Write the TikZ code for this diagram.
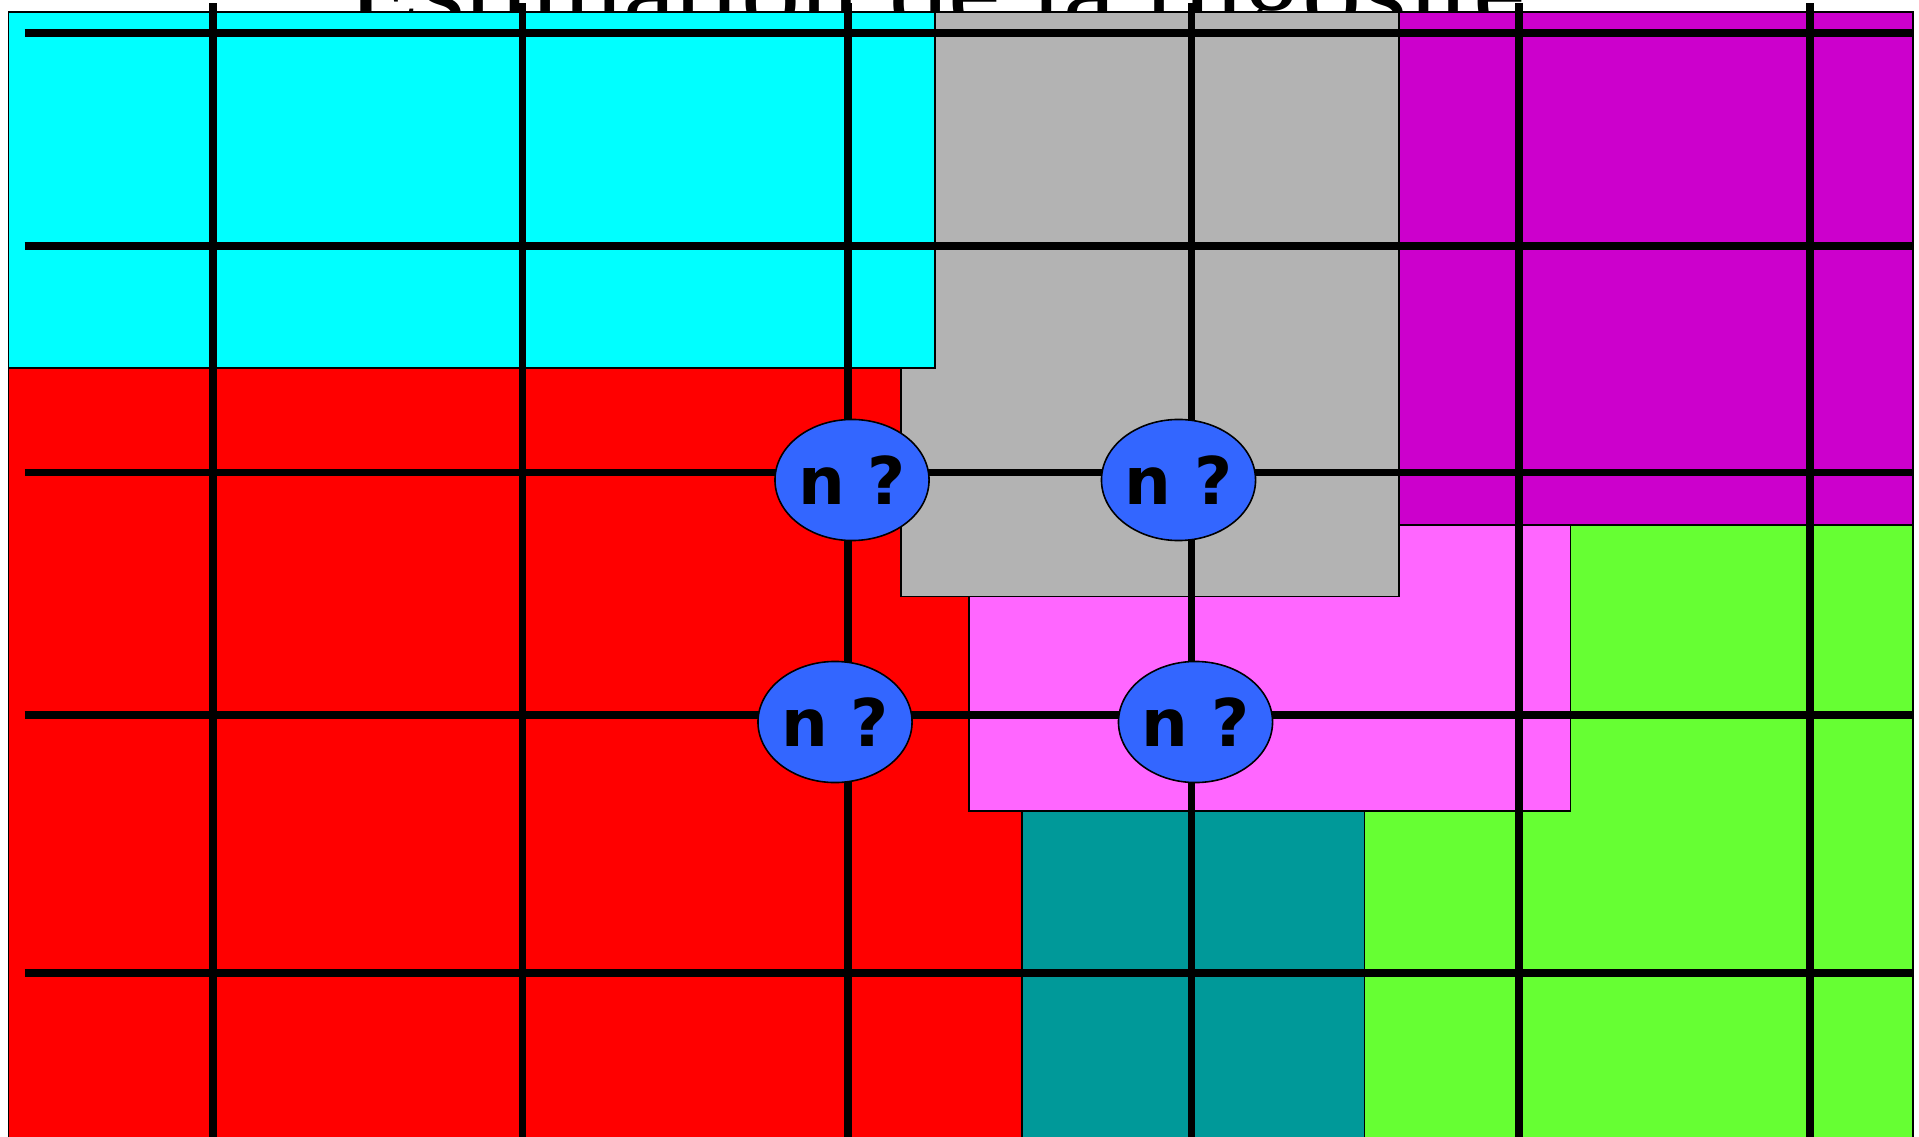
\documentclass[tikz,border=0pt]{standalone}
\usepackage{fontspec}
\newfontfamily\titlefont{Liberation Serif}
\newfontfamily\nfont{DejaVu Sans}
\usetikzlibrary{shapes.geometric}
\definecolor{regcyan}{HTML}{00FFFF}
\definecolor{regred}{HTML}{FF0000}
\definecolor{reggray}{HTML}{B3B3B3}
\definecolor{regmag}{HTML}{CC00CC}
\definecolor{regpink}{HTML}{FF66FF}
\definecolor{reggreen}{HTML}{66FF33}
\definecolor{regteal}{HTML}{009999}
\definecolor{nblue}{HTML}{3366FF}
\begin{document}
\begin{tikzpicture}[x=0.01cm,y=-0.01cm,
  region/.style={draw=black,line width=0.4pt},
  gridline/.style={line width=2.2pt,black},
  guess/.style={ellipse,draw=black,line width=0.45pt,fill=nblue,
    minimum width=1.54cm,minimum height=1.21cm,inner sep=0pt,
    font=\nfont\bfseries\fontsize{18.7}{20}\selectfont}]
\useasboundingbox (0,0) rectangle (1919,1137);
\fill[white] (0,0) rectangle (1919,1137);
\node[anchor=base,inner sep=0pt,font=\titlefont\fontsize{33.6}{36}\selectfont] (title) at (936.5,30) {Estimation de la rugosité};
\begin{scope}
\clip (0,0) rectangle (1919,1137);
% regions
\draw[region,fill=regred] (8.5,368) rectangle (1022,1140);
\draw[region,fill=reggreen] (1364.5,525) rectangle (1913,1140);
\draw[region,fill=regpink] (969,525) rectangle (1570.5,811);
\draw[region,fill=reggray] (901,12) rectangle (1399,596.5);
\draw[region,fill=regcyan] (8.5,12) rectangle (935,368);
\draw[region,fill=regmag] (1399,12) rectangle (1913,525);
\draw[region,fill=regteal] (1022,811) rectangle (1364.5,1140);
% grid
\foreach \yy in {33,246,472.5,715,973} \draw[gridline] (24.5,\yy) -- (1913,\yy);
\foreach \xx in {213,522.5,848,1191.5,1518.7,1810} \draw[gridline] (\xx,3.3) -- (\xx,1140);
\end{scope}
% estimates
\node[guess] (n1) at (852,480) {n ?};
\node[guess] (n2) at (1178.5,480) {n ?};
\node[guess] (n3) at (835,722) {n ?};
\node[guess] (n4) at (1195.5,722) {n ?};
\end{tikzpicture}
\end{document}
